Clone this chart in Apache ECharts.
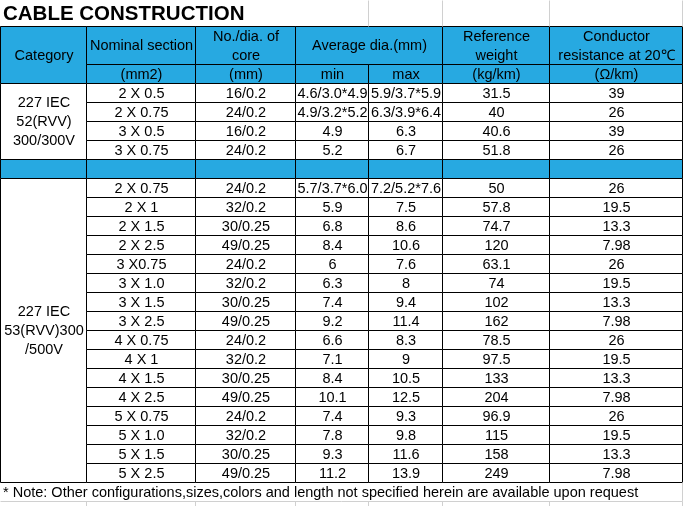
<!DOCTYPE html>
<html><head><meta charset="utf-8">
<script src="https://cdn.jsdelivr.net/npm/echarts@6/dist/echarts.min.js"></script>
<style>html,body{margin:0;padding:0;background:#fff}#c{width:683px;height:506px}</style>
</head><body><div id="c"></div>
<script>
// ---- data ----
const titleText = 'CABLE CONSTRUCTION';
const noteText = '* Note: Other configurations,sizes,colors and length not specified herein are available upon request';
const headerTop = ['Category', 'Nominal section', 'No./dia. of\ncore', 'Average dia.(mm)', 'Reference\nweight', 'Conductor\nresistance at 20℃'];
const headerUnits = ['(mm2)', '(mm)', 'min', 'max', '(kg/km)', '(Ω/km)'];
const groupNames = ['227 IEC\n52(RVV)\n300/300V', '227 IEC\n53(RVV)300\n/500V'];

const sections1 = ['2 X 0.5', '2 X 0.75', '3 X 0.5', '3 X 0.75'];
const cores1 = ['16/0.2', '24/0.2', '16/0.2', '24/0.2'];
const minDia1 = ['4.6/3.0*4.9', '4.9/3.2*5.2', '4.9', '5.2'];
const maxDia1 = ['5.9/3.7*5.9', '6.3/3.9*6.4', '6.3', '6.7'];
const weight1 = [31.5, 40, 40.6, 51.8];
const resist1 = [39, 26, 39, 26];

const sections2 = ['2 X 0.75', '2 X 1', '2 X 1.5', '2 X 2.5', '3 X0.75', '3 X 1.0', '3 X 1.5', '3 X 2.5', '4 X 0.75', '4 X 1', '4 X 1.5', '4 X 2.5', '5 X 0.75', '5 X 1.0', '5 X 1.5', '5 X 2.5'];
const cores2 = ['24/0.2', '32/0.2', '30/0.25', '49/0.25', '24/0.2', '32/0.2', '30/0.25', '49/0.25', '24/0.2', '32/0.2', '30/0.25', '49/0.25', '24/0.2', '32/0.2', '30/0.25', '49/0.25'];
const minDia2 = ['5.7/3.7*6.0', '5.9', '6.8', '8.4', '6', '6.3', '7.4', '9.2', '6.6', '7.1', '8.4', '10.1', '7.4', '7.8', '9.3', '11.2'];
const maxDia2 = ['7.2/5.2*7.6', '7.5', '8.6', '10.6', '7.6', '8', '9.4', '11.4', '8.3', '9', '10.5', '12.5', '9.3', '9.8', '11.6', '13.9'];
const weight2 = [50, 57.8, 74.7, 120, 63.1, 74, 102, 162, 78.5, 97.5, 133, 204, 96.9, 115, 158, 249];
const resist2 = [26, 19.5, 13.3, 7.98, 26, 19.5, 13.3, 7.98, 26, 19.5, 13.3, 7.98, 26, 19.5, 13.3, 7.98];

// ---- layout (column edges in x units, rows in y units) ----
const colEdges = [0, 86, 195, 295, 368, 442, 549, 682];
const BLUE = '#27A9E1';
const FONT = '"Liberation Sans", Arial, sans-serif';
const FS = 14.5;

// ---- build cells: [x0, x1, y0, y1] + meta ----
const cells = [];
const meta = [];
function addCell(c0, c1, r0, r1, text, kind) {
  cells.push([colEdges[c0], colEdges[c1], r0, r1]);
  meta.push({ text: text == null ? '' : String(text), kind });
}
// header
addCell(0, 1, 0, 3, headerTop[0], 'head');
addCell(1, 2, 0, 2, headerTop[1], 'head');
addCell(2, 3, 0, 2, headerTop[2], 'head');
addCell(3, 5, 0, 2, headerTop[3], 'head');
addCell(5, 6, 0, 2, headerTop[4], 'head');
addCell(6, 7, 0, 2, headerTop[5], 'head');
headerUnits.forEach((u, i) => addCell(i + 1, i + 2, 2, 3, u, 'head'));
// group 1
addCell(0, 1, 3, 3 + sections1.length, groupNames[0], 'cell');
sections1.forEach((s, i) => {
  const r = 3 + i;
  [s, cores1[i], minDia1[i], maxDia1[i], weight1[i], resist1[i]].forEach((v, j) => addCell(j + 1, j + 2, r, r + 1, v, 'cell'));
});
// blue separator
const sepRow = 3 + sections1.length;
for (let j = 0; j < 7; j++) addCell(j, j + 1, sepRow, sepRow + 1, '', 'head');
// group 2
const g2 = sepRow + 1;
addCell(0, 1, g2, g2 + sections2.length, groupNames[1], 'cell');
sections2.forEach((s, i) => {
  const r = g2 + i;
  [s, cores2[i], minDia2[i], maxDia2[i], weight2[i], resist2[i]].forEach((v, j) => addCell(j + 1, j + 2, r, r + 1, v, 'cell'));
});
const endRow = g2 + sections2.length;
// note row
cells.push([colEdges[0], colEdges[7], endRow, endRow + 1]);
meta.push({ text: noteText, kind: 'note' });
// spreadsheet gridlines (title area and below note)
[4, 5, 6, 7].forEach(j => { cells.push([colEdges[j], colEdges[j], -26 / 19, 0]); meta.push({ text: '', kind: 'grid' }); });
[1, 2, 3, 4, 5, 6, 7].forEach(j => { cells.push([colEdges[j], colEdges[j], endRow + 1, 480 / 19]); meta.push({ text: '', kind: 'grid' }); });
cells.push([colEdges[0], colEdges[7], endRow + 1, endRow + 1]); meta.push({ text: '', kind: 'grid' });
cells.push([colEdges[7], colEdges[7], endRow, endRow + 1]); meta.push({ text: '', kind: 'grid' });

// text measurement for shrink-to-fit
const mctx = document.createElement('canvas').getContext('2d');
function textWidth(t, size) {
  mctx.font = size + 'px ' + FONT;
  return Math.max(...t.split('\n').map(l => mctx.measureText(l).width));
}

function renderItem(params, api) {
  const m = meta[params.dataIndex];
  const p0 = api.coord([api.value(0), api.value(2)]);
  const p1 = api.coord([api.value(1), api.value(3)]);
  const x0 = Math.round(p0[0]), x1 = Math.round(p1[0]);
  const y0 = Math.round(p0[1]), y1 = Math.round(p1[1]);
  if (m.kind === 'grid') {
    return { type: 'line', shape: { x1: x0 + 0.5, y1: y0 + 0.5, x2: x1 + 0.5, y2: y1 + 0.5 }, style: { stroke: '#d0d0d0', lineWidth: 1 } };
  }
  const children = [];
  if (m.kind === 'note') {
    children.push({ type: 'text', x: x0 + 3, y: (y0 + y1) / 2 + 1, style: { text: m.text, fontSize: FS, fontFamily: FONT, fill: '#000', align: 'left', verticalAlign: 'middle' } });
    return { type: 'group', children };
  }
  children.push({
    type: 'rect',
    shape: { x: x0 + 0.5, y: y0 + 0.5, width: x1 - x0, height: y1 - y0 },
    style: { fill: m.kind === 'head' ? BLUE : '#fff', stroke: '#000', lineWidth: 1 }
  });
  if (m.text) {
    const w = textWidth(m.text, FS);
    const avail = x1 - x0 - 3;
    const s = w > avail ? avail / w : 1;
    children.push({
      type: 'text', x: (x0 + x1) / 2 + 1, y: (y0 + y1) / 2 + 1, scaleX: s,
      style: { text: m.text, x: 0, y: 0, fontSize: FS, fontFamily: FONT, fill: '#000', align: 'center', verticalAlign: 'middle', lineHeight: 19 }
    });
  }
  return { type: 'group', children };
}

const chart = echarts.init(document.getElementById('c'), null, { renderer: 'canvas' });
chart.setOption({
  animation: false,
  backgroundColor: '#fff',
  title: { text: titleText, left: 3, top: 4, padding: 0, textStyle: { fontSize: 20.5, fontWeight: 'bold', fontFamily: FONT, color: '#000' } },
  grid: { left: 0, right: 0, top: 0, bottom: 0 },
  xAxis: { type: 'value', min: 0, max: 683, show: false },
  yAxis: { type: 'value', min: -26 / 19, max: 480 / 19, inverse: true, show: false },
  series: [{
    type: 'custom',
    renderItem,
    encode: { x: [0, 1], y: [2, 3] },
    data: cells,
    clip: false,
    silent: true
  }]
});
</script></body></html>
